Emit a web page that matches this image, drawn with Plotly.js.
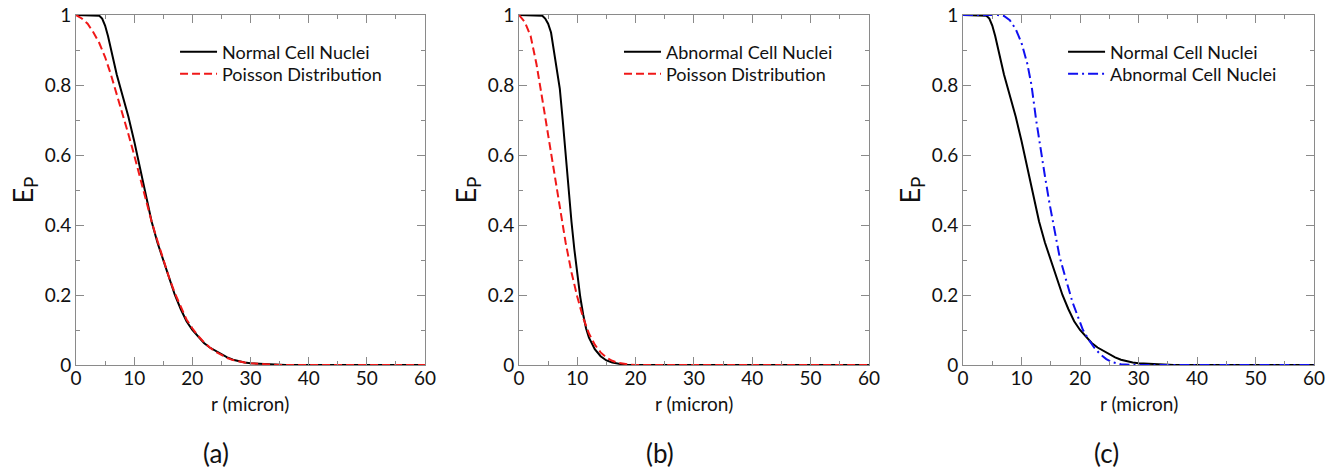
<!DOCTYPE html>
<html>
<head>
<meta charset="utf-8">
<script src="https://cdn.plot.ly/plotly-3.0.1.min.js"></script>
<style>html,body{margin:0;padding:0;background:#fff;}#chart{width:1336px;height:471px;}</style>
</head>
<body>
<div id="chart"></div>
<script>
// ---- Data ----
// Panel (a) & (c): Normal cell nuclei
const rNormal = [0,1,2,3,4,4.5,5,5.5,6,7,8,9,10,11,12,13,14,15,16,17,18,19,20,21,22,23,24,25,26,27,28,29,30,32,34,36,40,45,50,55,60];
const eNormal = [1,1,1,1,0.998,0.99,0.97,0.94,0.9,0.83,0.77,0.71,0.64,0.56,0.48,0.41,0.35,0.3,0.25,0.2,0.16,0.125,0.1,0.08,0.063,0.05,0.04,0.03,0.022,0.015,0.01,0.007,0.005,0.003,0.001,0,0,0,0,0,0];
// Panel (a): Poisson distribution
const rPoissonA = [0,1,2,3,4,5,6,7,8,9,10,11,12,13,14,15,16,17,18,19,20,21,22,23,24,25,26,27,28,29,30,32,34,36,40,50,60];
const ePoissonA = [1,0.99,0.975,0.95,0.92,0.88,0.83,0.775,0.72,0.66,0.6,0.535,0.47,0.41,0.355,0.3,0.25,0.205,0.165,0.13,0.105,0.083,0.065,0.05,0.038,0.028,0.02,0.014,0.01,0.007,0.005,0.002,0.001,0,0,0,0];
// Panel (b): Abnormal cell nuclei
const rAbnormalB = [0,1,2,3,3.5,4,4.5,5,5.5,6,6.5,7,7.5,8,8.5,9,9.5,10,10.5,11,11.5,12,13,14,15,16,17,18,19,20,25,30,40,50,60];
const eAbnormalB = [1,1,1,1,1,0.998,0.99,0.975,0.95,0.9,0.85,0.79,0.7,0.6,0.5,0.41,0.33,0.26,0.195,0.145,0.105,0.078,0.045,0.025,0.013,0.007,0.003,0.001,0,0,0,0,0,0,0];
// Panel (b): Poisson distribution
const rPoissonB = [0,1,2,3,4,5,6,7,8,9,10,11,12,13,14,15,16,17,18,19,20,30,40,50,60];
const ePoissonB = [1,0.98,0.94,0.86,0.76,0.66,0.555,0.45,0.35,0.265,0.195,0.135,0.09,0.058,0.036,0.021,0.012,0.006,0.003,0.001,0,0,0,0,0];
// Panel (c): Abnormal cell nuclei
const rAbnormalC = [0,2,4,6,7,8,9,10,11,11.7,12.5,13.2,14,14.8,15.7,16.5,17.5,18.7,19.6,20.5,21.5,22.5,23.5,24.5,25.5,27,30,40,50,60];
const eAbnormalC = [1,1,1,1,0.997,0.985,0.96,0.92,0.86,0.8,0.7,0.62,0.54,0.46,0.38,0.31,0.25,0.18,0.14,0.1,0.072,0.048,0.03,0.017,0.008,0.002,0,0,0,0];

// Labels
const seriesNames = {normal: "Normal Cell Nuclei", abnormal: "Abnormal Cell Nuclei", poisson: "Poisson Distribution"};
const panelLabels = ["(a)", "(b)", "(c)"];
const xTitle = "r (micron)";
const yTitle = "E<sub>P</sub>";
const xTickVals = [0,10,20,30,40,50,60];
const yTickVals = [0,0.2,0.4,0.6,0.8,1];
const yTickText = ["0","0.2","0.4","0.6","0.8","1"];

// ---- Styles ----
const FONT = "Lato, 'Open Sans', sans-serif";
const TXT = "#111111";
const black = "#000000", red = "#f01818", blue = "#1010f0";

const traces = [
  {x: rNormal, y: eNormal, name: seriesNames.normal, xaxis: "x", yaxis: "y", legend: "legend",
   mode: "lines", line: {color: black, width: 2}},
  {x: rPoissonA, y: ePoissonA, name: seriesNames.poisson, xaxis: "x", yaxis: "y", legend: "legend2",
   mode: "lines", line: {color: red, width: 2, dash: "8px,4px"}},
  {x: rAbnormalB, y: eAbnormalB, name: seriesNames.abnormal, xaxis: "x2", yaxis: "y2", legend: "legend3",
   mode: "lines", line: {color: black, width: 2}},
  {x: rPoissonB, y: ePoissonB, name: seriesNames.poisson, xaxis: "x2", yaxis: "y2", legend: "legend4",
   mode: "lines", line: {color: red, width: 2, dash: "8px,4px"}},
  {x: rNormal, y: eNormal, name: seriesNames.normal, xaxis: "x3", yaxis: "y3", legend: "legend5",
   mode: "lines", line: {color: black, width: 2}},
  {x: rAbnormalC, y: eAbnormalC, name: seriesNames.abnormal, xaxis: "x3", yaxis: "y3", legend: "legend6",
   mode: "lines", line: {color: blue, width: 2, dash: "10px,4px,2px,4px"}}
];

const axisColor = "#8a8a8a";
function xAxis(domain, anchor) {
  return {
    domain: domain, anchor: anchor, range: [0, 60], tickvals: xTickVals,
    showline: true, linecolor: axisColor, linewidth: 1, mirror: "ticks",
    ticks: "inside", ticklen: 8, tickcolor: axisColor, tickwidth: 1,
    minor: {ticks: "inside", ticklen: 4, tickcolor: axisColor, dtick: 5, tick0: 0},
    showgrid: false, zeroline: false, ticklabelstandoff: -4,
    tickfont: {family: FONT, size: 19, color: TXT}
  };
}
function yAxis(anchor) {
  return {
    domain: [0, 1], anchor: anchor, range: [0, 1], tickvals: yTickVals, ticktext: yTickText,
    showline: true, linecolor: axisColor, linewidth: 1, mirror: "ticks",
    ticks: "inside", ticklen: 8, tickcolor: axisColor, tickwidth: 1,
    minor: {ticks: "inside", ticklen: 4, tickcolor: axisColor, dtick: 0.1, tick0: 0},
    showgrid: false, zeroline: false,
    tickfont: {family: FONT, size: 19, color: TXT},
    title: {text: yTitle, font: {family: FONT, size: 27, color: TXT}, standoff: 3}
  };
}
function legendAt(x, y) {
  return {x: x, y: y, xanchor: "left", yanchor: "top", bgcolor: "rgba(0,0,0,0)",
    borderwidth: 0, itemwidth: 37, font: {family: FONT, size: 18, color: TXT}, tracegroupgap: 0};
}
const row1 = 0.9471, row2 = 0.8843;
const domA = [0, 0.2819], domB = [0.3578, 0.6405], domC = [0.7165, 1];
const mid = d => (d[0] + d[1]) / 2;

const textAnn = (text, x, y, size) => ({text: text, x: x, y: y, xref: "paper", yref: "paper",
  xanchor: "center", yanchor: "middle", showarrow: false, font: {family: FONT, size: size, color: TXT}});

const layout = {
  width: 1336, height: 471,
  margin: {l: 76, r: 22, t: 15, b: 106},
  paper_bgcolor: "#ffffff", plot_bgcolor: "#ffffff",
  showlegend: true,
  xaxis: xAxis(domA, "y"),
  yaxis: yAxis("x"),
  xaxis2: xAxis(domB, "y2"),
  yaxis2: yAxis("x2"),
  xaxis3: xAxis(domC, "y3"),
  yaxis3: yAxis("x3"),
  legend: legendAt(0.080, row1),
  legend2: legendAt(0.080, row2),
  legend3: legendAt(0.4386, row1),
  legend4: legendAt(0.4386, row2),
  legend5: legendAt(0.7973, row1),
  legend6: legendAt(0.7973, row2),
  annotations: [
    textAnn(xTitle, mid(domA), -0.11, 19),
    textAnn(xTitle, mid(domB), -0.11, 19),
    textAnn(xTitle, mid(domC), -0.11, 19),
    textAnn(panelLabels[0], 0.1131, -0.2514, 26),
    textAnn(panelLabels[1], 0.4717, -0.2514, 26),
    textAnn(panelLabels[2], 0.8320, -0.2514, 26)
  ],
  hovermode: false
};

Plotly.newPlot("chart", traces, layout, {displayModeBar: false, staticPlot: true});
</script>
</body>
</html>
